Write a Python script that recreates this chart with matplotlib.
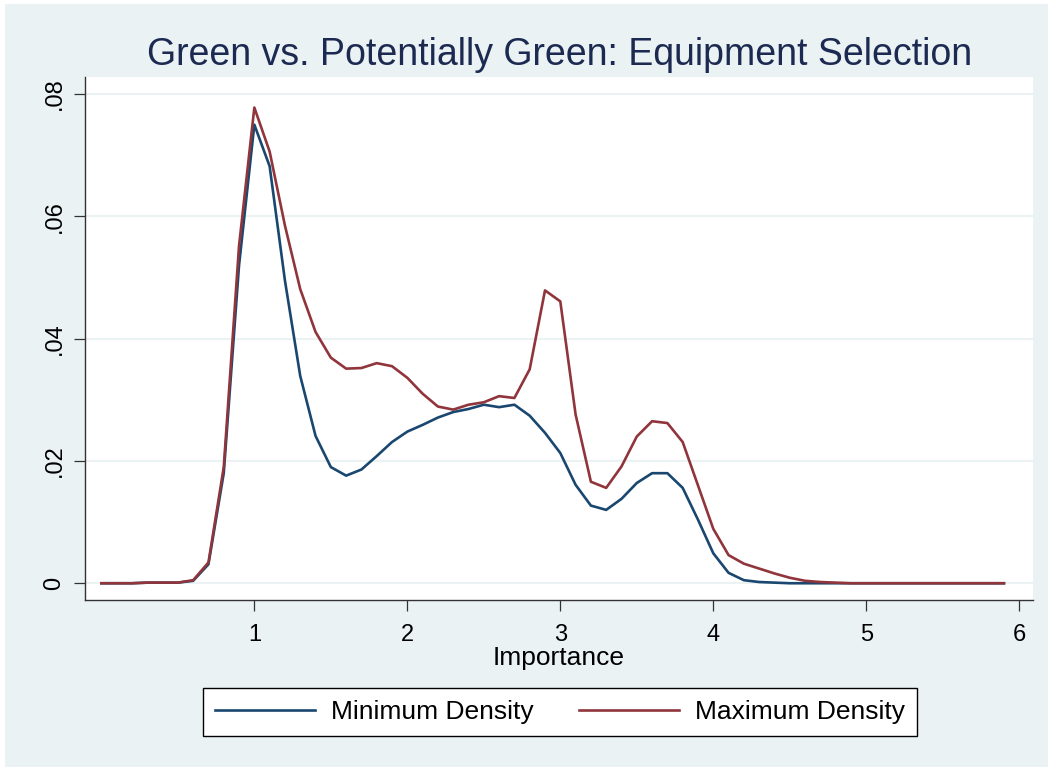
import numpy as np
import matplotlib
matplotlib.use("Agg")
import matplotlib.pyplot as plt
from matplotlib.patches import Rectangle

plt.rcParams['font.family'] = ['Liberation Sans', 'DejaVu Sans']

# Importance grid (0.0 .. 5.9)
importance = np.round(np.arange(0, 60) * 0.1, 1)

min_density = [
    0.0000, 0.0000, 0.0000, 0.0001, 0.0001, 0.0001, 0.0004, 0.0031, 0.0180, 0.0520,
    0.0750, 0.0682, 0.0495, 0.0339, 0.0241, 0.0190, 0.0176, 0.0186, 0.0208, 0.0231,
    0.0248, 0.0259, 0.0271, 0.0280, 0.0285, 0.0292, 0.0288, 0.0292, 0.0274, 0.0246,
    0.0213, 0.0161, 0.0127, 0.0120, 0.0138, 0.0164, 0.0180, 0.0180, 0.0156, 0.0104,
    0.0049, 0.0017, 0.0005, 0.0002, 0.0001, 0.0000, 0.0000, 0.0000, 0.0000, 0.0000,
    0.0000, 0.0000, 0.0000, 0.0000, 0.0000, 0.0000, 0.0000, 0.0000, 0.0000, 0.0000,
]

max_density = [
    0.0000, 0.0000, 0.0000, 0.0001, 0.0001, 0.0001, 0.0005, 0.0034, 0.0190, 0.0552,
    0.0778, 0.0706, 0.0585, 0.0481, 0.0411, 0.0369, 0.0351, 0.0352, 0.0360, 0.0355,
    0.0336, 0.0310, 0.0289, 0.0284, 0.0292, 0.0296, 0.0306, 0.0303, 0.0350, 0.0479,
    0.0461, 0.0276, 0.0166, 0.0156, 0.0191, 0.0240, 0.0265, 0.0262, 0.0231, 0.0160,
    0.0089, 0.0046, 0.0032, 0.0024, 0.0016, 0.0009, 0.0004, 0.0002, 0.0001, 0.0000,
    0.0000, 0.0000, 0.0000, 0.0000, 0.0000, 0.0000, 0.0000, 0.0000, 0.0000, 0.0000,
]

x_ticks = [1, 2, 3, 4, 5, 6]
y_ticks = [0, 0.02, 0.04, 0.06, 0.08]
y_tick_labels = ['0', '.02', '.04', '.06', '.08']
series_labels = ['Minimum Density', 'Maximum Density']

title = 'Green vs. Potentially Green: Equipment Selection'
x_label = 'Importance'

W, H = 1053, 771
bg = '#EAF2F3'
navy = '#1A476F'
maroon = '#90353B'

fig = plt.figure(figsize=(W / 100, H / 100), dpi=100, facecolor='white')
# graph region with thin white margin
fig.patches.append(Rectangle((5 / W, 4 / H), (W - 10) / W, (H - 8) / H,
                             transform=fig.transFigure, facecolor=bg,
                             edgecolor='none', zorder=-10))

left, right, top, bottom = 85, 1033, 77, 600
ax = fig.add_axes([left / W, 1 - bottom / H, (right - left) / W, (bottom - top) / H])
ax.set_facecolor('white')

ax.set_xlim(-0.107, 6.09)
ax.set_ylim(-0.00274, 0.0828)

for yv in y_ticks:
    ax.axhline(yv, color=bg, lw=1.5, zorder=1)

l1, = ax.plot(importance, min_density, color=navy, lw=1.9, zorder=3)
l2, = ax.plot(importance, max_density, color=maroon, lw=1.9, zorder=3)

ax.set_xticks(x_ticks)
ax.set_xticklabels([str(t) for t in x_ticks])
ax.set_yticks(y_ticks)
ax.set_yticklabels(y_tick_labels, rotation=90, va='center')

for s in ['top', 'right']:
    ax.spines[s].set_visible(False)
for s in ['left', 'bottom']:
    ax.spines[s].set_color('#333333')
    ax.spines[s].set_linewidth(1.0)

ax.tick_params(axis='both', direction='out', length=8, width=0.9,
               color='#333333', labelsize=17, labelcolor='black')
ax.tick_params(axis='y', pad=6)
ax.tick_params(axis='x', pad=9)

ax.set_xlabel(x_label, fontsize=19, labelpad=0, color='black')

fig.text(560 / W, 1 - 55 / H, title, ha='center', va='center',
         fontsize=27, color='#1C2A52')

leg = fig.legend([l1, l2], series_labels, loc='center',
                 bbox_to_anchor=(560 / W, 1 - 712 / H), ncol=2,
                 frameon=True, fancybox=False, edgecolor='black',
                 facecolor='white', framealpha=1, fontsize=19,
                 handlelength=3.8, handletextpad=0.6, columnspacing=1.7,
                 borderpad=0.45)
leg.get_frame().set_linewidth(1.0)

fig.savefig('out.png', dpi=100, facecolor=fig.get_facecolor())
